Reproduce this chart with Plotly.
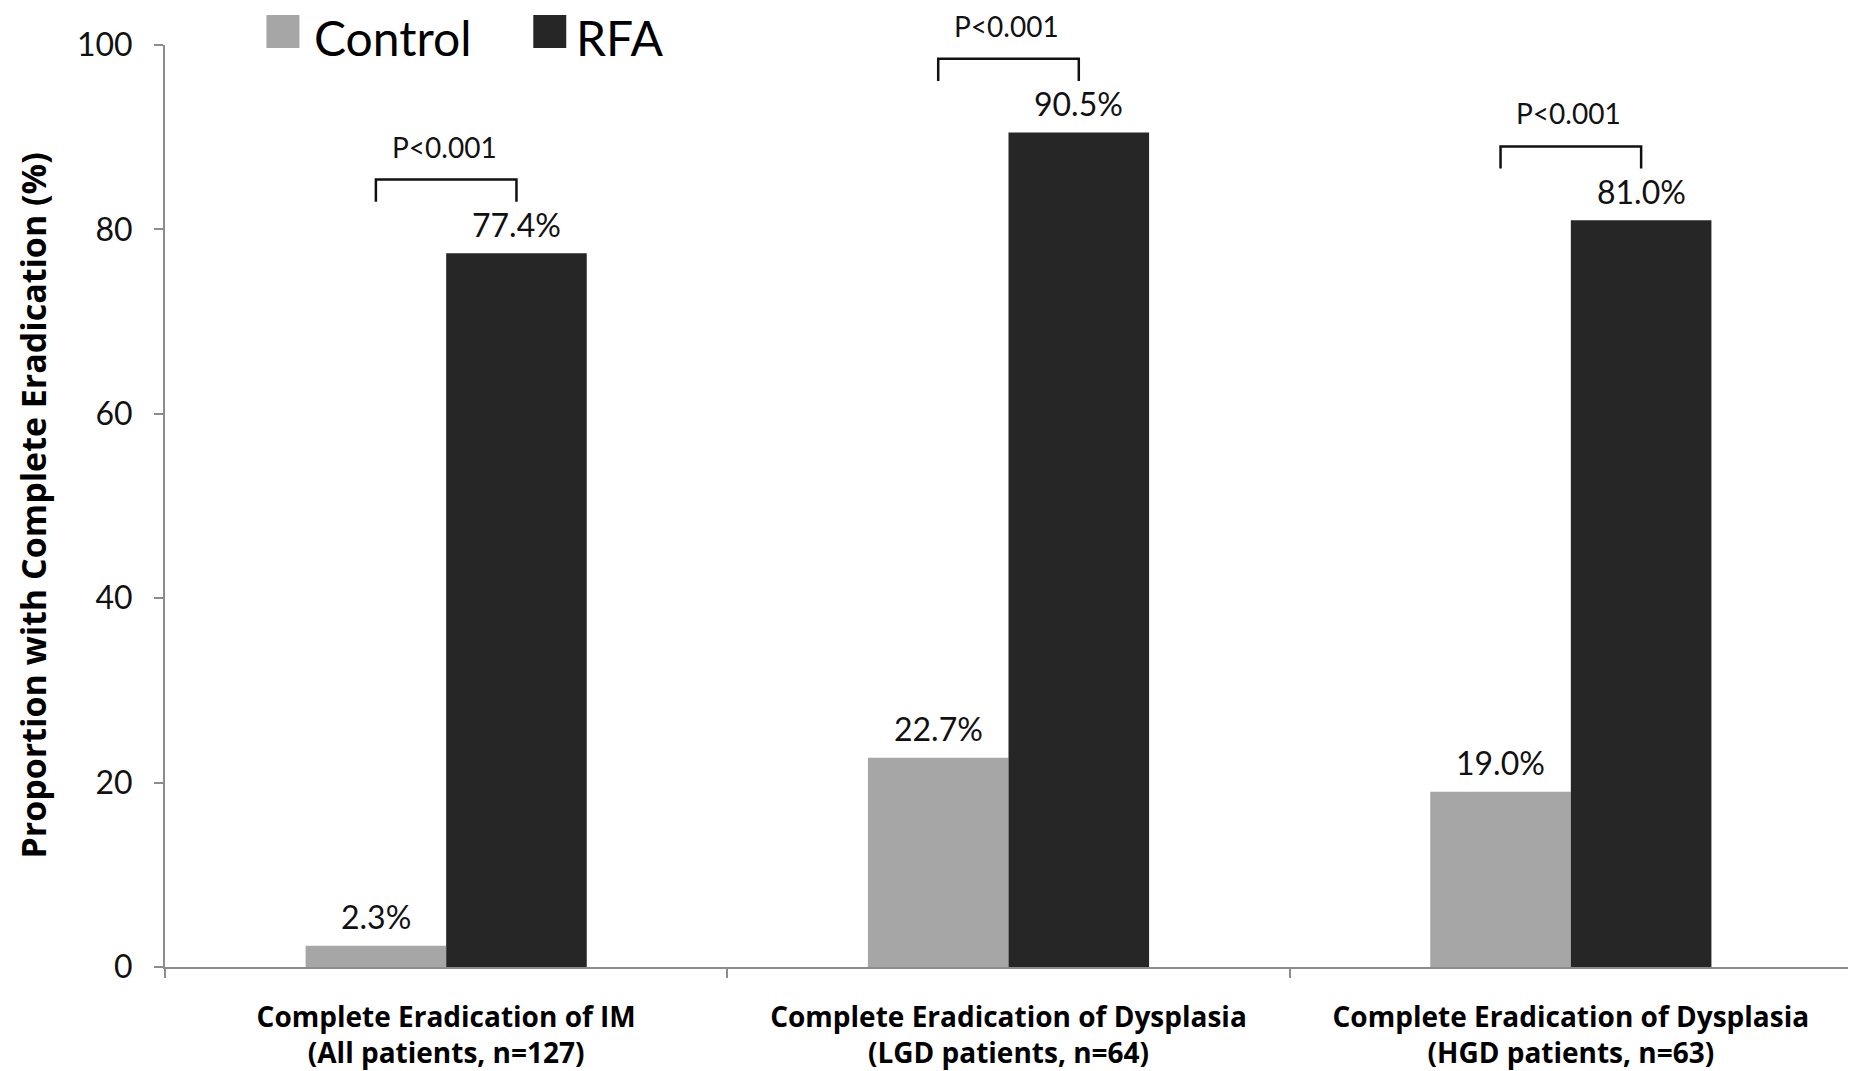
import plotly.graph_objects as go

# ---- data ----
categories = [
    "Complete Eradication of IM<br>(All patients, n=127)",
    "Complete Eradication of Dysplasia<br>(LGD patients, n=64)",
    "Complete Eradication of Dysplasia<br>(HGD patients, n=63)",
]
series_names = ["Control", "RFA"]
control_values = [2.3, 22.7, 19.0]
rfa_values = [77.4, 90.5, 81.0]
p_labels = ["P<0.001", "P<0.001", "P<0.001"]
y_ticks = [0, 20, 40, 60, 80, 100]

# ---- style ----
OFF = 8  # default page margin of the html body
W, H = 1848, 1063
ML, MR, MT, MB = 156.5, 3.5, 37, 104
PW, PH = W - ML - MR, H - MT - MB
FONT = "Lato"
BFONT = "Open Sans"
C_CTRL = "#a6a6a6"
C_RFA = "#262626"
AXIS_C = "#8c8c8c"


def px_x(px):  # page pixel -> paper x
    return (px - OFF - ML) / PW


def px_y(py):  # page pixel -> paper y
    return (H - MB - (py - OFF)) / PH


fig = go.Figure()
fig.add_trace(go.Bar(x=categories, y=control_values, name=series_names[0],
                     marker=dict(color=C_CTRL, line=dict(width=0)), showlegend=False))
fig.add_trace(go.Bar(x=categories, y=rfa_values, name=series_names[1],
                     marker=dict(color=C_RFA, line=dict(width=0)), showlegend=False))

annotations = []
shapes = []
half = 0.125
for i in range(len(categories)):
    for off, v in ((-half, control_values[i]), (half, rfa_values[i])):
        annotations.append(dict(x=i + off, y=v, xref="x", yref="y", text=f"{v:.1f}%",
                                showarrow=False, yanchor="middle", yshift=29,
                                font=dict(family=FONT, size=32, color="#111")))
    top = rfa_values[i] + 8
    bot = top - 2.4
    shapes.append(dict(type="path", xref="x", yref="y",
                       path=f"M {i-half},{bot} L {i-half},{top} L {i+half},{top} L {i+half},{bot}",
                       line=dict(color="#111", width=2.5)))
    annotations.append(dict(x=i, y=top, xref="x", yref="y", text=p_labels[i],
                            showarrow=False, yanchor="middle", yshift=33, xshift=-2,
                            font=dict(family=FONT, size=28, color="#111")))

# legend drawn manually (large squares)
leg = [(266, 312, C_CTRL, series_names[0]), (533, 574, C_RFA, series_names[1])]
for sx, tx, col, name in leg:
    shapes.append(dict(type="rect", xref="paper", yref="paper",
                       x0=px_x(sx), x1=px_x(sx + 33), y0=px_y(48), y1=px_y(15),
                       fillcolor=col, line=dict(width=0)))
    annotations.append(dict(x=px_x(tx), y=px_y(38), xref="paper", yref="paper",
                            text=name, showarrow=False, xanchor="left", yanchor="middle",
                            font=dict(family=FONT, size=48, color="#000")))

# y-axis title
annotations.append(dict(x=px_x(32), y=0.5, xref="paper", yref="paper",
                        text="<b>Proportion with Complete Eradication (%)</b>",
                        textangle=-90, showarrow=False, xanchor="center", yanchor="middle",
                        font=dict(family=BFONT, size=34, color="#000")))

fig.update_layout(
    width=W, height=H,
    margin=dict(l=ML, r=MR, t=MT, b=MB, autoexpand=False),
    paper_bgcolor="white", plot_bgcolor="white",
    barmode="group", bargap=0.5, bargroupgap=0,
    showlegend=False,
    annotations=annotations, shapes=shapes,
    font=dict(family=FONT, color="#000"),
)
fig.update_xaxes(
    type="category", range=[-0.5, 2.5], tickson="boundaries",
    showline=True, linecolor=AXIS_C, linewidth=2,
    ticks="outside", ticklen=9, tickwidth=2, tickcolor=AXIS_C,
    showgrid=False, zeroline=False,
    tickfont=dict(family=BFONT, size=28, color="#000", weight="bold"),
    ticklabelstandoff=24,
)
fig.update_yaxes(
    range=[0, 100], tickvals=y_ticks,
    showline=True, linecolor=AXIS_C, linewidth=2,
    ticks="outside", ticklen=9, tickwidth=2, tickcolor=AXIS_C,
    showgrid=False, zeroline=False,
    tickfont=dict(family=FONT, size=32, color="#111"),
    ticklabelstandoff=15,
)

fig.write_html("out.html")
